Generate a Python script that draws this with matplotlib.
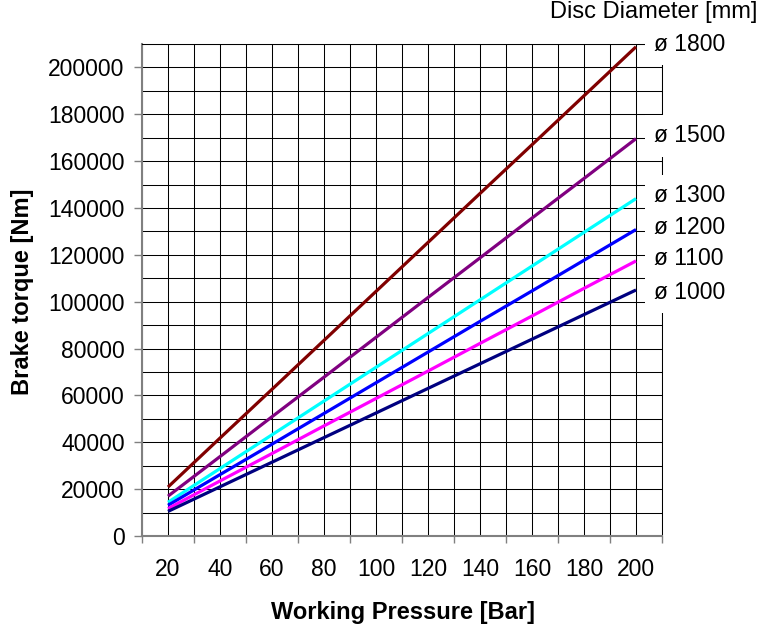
import matplotlib.pyplot as plt
import numpy as np

plt.rcParams['font.family'] = ['Liberation Sans', 'DejaVu Sans']

# working pressure categories [Bar]
pressures = ['20', '40', '60', '80', '100', '120', '140', '160', '180', '200']

# brake torque [Nm] per disc diameter
t_1800 = [20900, 41800, 62600, 83500, 104400, 125300, 146200, 167000, 187900, 208800]
t_1500 = [17000, 33900, 50900, 67800, 84800, 101800, 118700, 135700, 152600, 169600]
t_1300 = [14400, 28800, 43200, 57600, 72000, 86400, 100800, 115200, 129600, 144000]
t_1200 = [13100, 26200, 39200, 52300, 65400, 78500, 91600, 104600, 117700, 130800]
t_1100 = [11700, 23500, 35200, 47000, 58700, 70400, 82200, 93900, 105700, 117400]
t_1000 = [10500, 21000, 31500, 42000, 52500, 63000, 73500, 84000, 94500, 105000]

series = [
    ('ø 1800', t_1800, '#800000'),
    ('ø 1500', t_1500, '#800080'),
    ('ø 1300', t_1300, '#00FFFF'),
    ('ø 1200', t_1200, '#0000FF'),
    ('ø 1100', t_1100, '#FF00FF'),
    ('ø 1000', t_1000, '#000080'),
]
# small vertical nudge of each end label (points)
label_dy = [1.5, 2, 2, 1.5, 2, -2]

W, H = 761, 627
fig = plt.figure(figsize=(W / 100, H / 100), dpi=100)
ax = fig.add_axes([142 / W, 91 / H, 520 / W, 492 / H])

x = np.arange(len(pressures))
for name, vals, col in series:
    ax.plot(x, vals, color=col, lw=2.3, solid_capstyle='butt', zorder=2)

ax.set_xlim(-0.5, len(pressures) - 0.5)
ax.set_ylim(0, 210000)

# category axis: ticks on boundaries, labels in the middle
ax.set_xticks(np.arange(-0.5, len(pressures), 1))
ax.set_xticklabels([])
ax.set_xticks(x, minor=True)
ax.set_xticklabels(pressures, minor=True)
ax.tick_params(axis='x', which='major', length=5, width=1, color='#808080', direction='out')
ax.tick_params(axis='x', which='minor', length=0, pad=16, labelsize=16.5)

ax.set_yticks(np.arange(0, 200001, 20000))
ax.set_yticks(np.arange(10000, 210001, 20000), minor=True)
ax.tick_params(axis='y', which='major', length=5.5, width=1, color='#808080', direction='out',
               pad=7, labelsize=16.5)
ax.tick_params(axis='y', which='minor', length=0)

ax.grid(True, which='both', color='black', lw=0.75)
ax.set_axisbelow(True)

for s in ['left', 'bottom']:
    ax.spines[s].set_color('#808080')
    ax.spines[s].set_linewidth(1.5)
for s in ['top', 'right']:
    ax.spines[s].set_color('black')
    ax.spines[s].set_linewidth(0.75)

# end-of-line labels on white boxes
for (name, vals, col), dy in zip(series, label_dy):
    ax.annotate(name, xy=(x[-1], vals[-1]), xytext=(13, dy), textcoords='offset points',
                ha='left', va='center', fontsize=16.5, annotation_clip=False, zorder=4,
                bbox=dict(boxstyle='square,pad=0.4', fc='white', ec='none'))

fig.text(654 / W, 1 - 12 / H, 'Disc Diameter [mm]', ha='center', va='center', fontsize=17)
fig.text(403 / W, 1 - 612 / H, 'Working Pressure [Bar]', ha='center', va='center',
         fontsize=17, fontweight='bold')
fig.text(22.5 / W, 1 - 292 / H, 'Brake torque [Nm]', ha='center', va='center',
         rotation=90, fontsize=17, fontweight='bold')

fig.savefig('out.png', dpi=100)
